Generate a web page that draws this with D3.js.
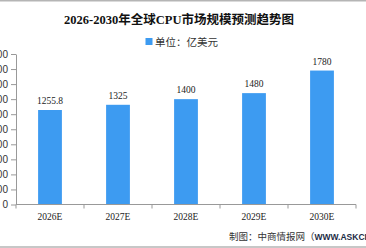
<!DOCTYPE html>
<html>
<head>
<meta charset="utf-8">
<script src="https://cdn.jsdelivr.net/npm/d3@7"></script>
<style>
  body { margin: 0; background: #fff; }
  svg { display: block; }
</style>
</head>
<body>
<div id="canvas"></div>
<script>
const years = ["2026E", "2027E", "2028E", "2029E", "2030E"];
const values = [1255.8, 1325, 1400, 1480, 1780];
const valueLabels = ["1255.8", "1325", "1400", "1480", "1780"];
const yTicks = [0, 200, 400, 600, 800, 1000, 1200, 1400, 1600, 1800, 2000];

const width = 366;
const height = 248;
const blue = "#3d9bf1";
const axisColor = "#999";

const svg = d3.select("#canvas").append("svg")
  .attr("width", width)
  .attr("height", height);

// frame lines top and bottom
svg.append("line").attr("x1", 0).attr("x2", width).attr("y1", 0.5).attr("y2", 0.5)
  .attr("stroke", "#b5b5b5").attr("stroke-width", 2);
svg.append("line").attr("x1", 0).attr("x2", width).attr("y1", 247).attr("y2", 247)
  .attr("stroke", "#b5b5b5").attr("stroke-width", 1.5);

// title
svg.append("text")
  .attr("x", 179).attr("y", 24)
  .attr("text-anchor", "middle")
  .style("font-family", "'Liberation Serif', 'Noto Sans CJK SC'")
  .style("font-weight", "bold")
  .style("font-size", "12.5px")
  .attr("fill", "#111")
  .text("2026-2030年全球CPU市场规模预测趋势图");

// legend
svg.append("rect").attr("x", 145.5).attr("y", 38).attr("width", 7).attr("height", 7).attr("fill", blue);
svg.append("text")
  .attr("x", 155).attr("y", 45.5)
  .style("font-family", "'Noto Sans CJK SC'")
  .style("font-size", "10.5px")
  .attr("fill", "#333")
  .text("单位：亿美元");

const y = d3.scaleLinear().domain([0, 2000]).range([204.5, 54]);
const x = d3.scaleBand().domain(years).range([16, 356]).padding(0);

// y axis
const yAxis = svg.append("g")
  .attr("transform", "translate(16,0)")
  .call(d3.axisLeft(y).tickValues(yTicks).tickSize(5).tickPadding(3).tickSizeOuter(0));
yAxis.select(".domain").attr("stroke", axisColor);
yAxis.selectAll(".tick line").attr("stroke", axisColor);
yAxis.selectAll(".tick text")
  .attr("fill", "#333")
  .style("font-family", "'Liberation Sans', Arial")
  .style("font-size", "10px");

// bars
const barW = x.bandwidth() * 0.35;
svg.append("g").selectAll("rect").data(values).enter().append("rect")
  .attr("x", (d, i) => x(years[i]) + (x.bandwidth() - barW) / 2)
  .attr("y", d => y(d))
  .attr("width", barW)
  .attr("height", d => y(0) - y(d))
  .attr("fill", blue);

// value labels
svg.append("g").selectAll("text").data(values).enter().append("text")
  .attr("x", (d, i) => x(years[i]) + x.bandwidth() / 2)
  .attr("y", d => y(d) - 6)
  .attr("text-anchor", "middle")
  .style("font-family", "'Liberation Serif', 'DejaVu Serif'")
  .style("font-size", "9.5px")
  .attr("fill", "#222")
  .text((d, i) => valueLabels[i]);

// x axis with ticks at band edges
const xg = svg.append("g");
xg.append("line")
  .attr("x1", x.range()[0]).attr("x2", x.range()[1])
  .attr("y1", y(0)).attr("y2", y(0))
  .attr("stroke", axisColor);
const edges = years.map(d => x(d)).concat([x.range()[1]]);
xg.selectAll(".tk").data(edges).enter().append("line")
  .attr("x1", d => d).attr("x2", d => d)
  .attr("y1", y(0)).attr("y2", y(0) + 4)
  .attr("stroke", axisColor);
xg.selectAll(".lbl").data(years).enter().append("text")
  .attr("x", d => x(d) + x.bandwidth() / 2)
  .attr("y", 219.5)
  .attr("text-anchor", "middle")
  .style("font-family", "'Liberation Serif', 'DejaVu Serif'")
  .style("font-size", "9.5px")
  .attr("fill", "#222")
  .text(d => d);

// source
const src = svg.append("text")
  .attr("x", 229).attr("y", 240)
  .style("font-family", "'Noto Sans CJK SC'")
  .style("font-size", "9.5px")
  .attr("fill", "#333");
src.append("tspan").text("制图：中商情报网（");
src.append("tspan")
  .style("font-family", "'Liberation Sans', Arial")
  .style("font-weight", "bold")
  .style("font-size", "8.5px")
  .attr("fill", "#1c2b45")
  .text("WWW.ASKCI.COM）");
</script>
</body>
</html>
